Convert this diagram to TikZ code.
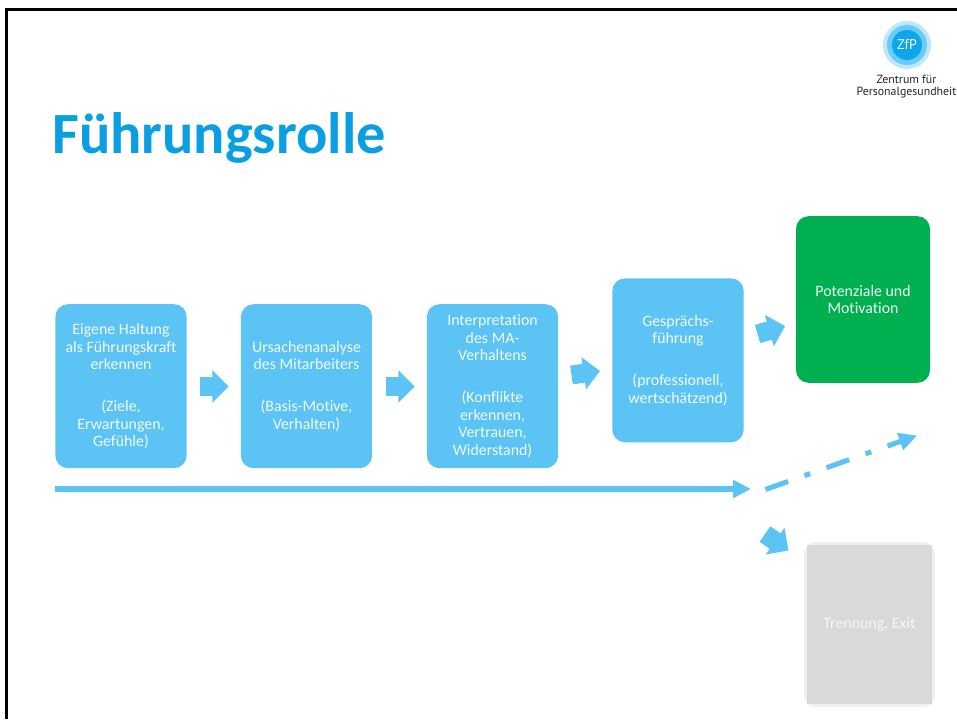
\documentclass[tikz,border=0pt]{standalone}
\usepackage{fontspec}
\setmainfont[Ligatures=NoCommon]{Carlito}
\newfontfamily\logofont{PT Sans}
\usetikzlibrary{shapes.arrows,arrows.meta}
\definecolor{zblue}{HTML}{5BC4F4}
\definecolor{ztitle}{HTML}{0A9FE3}
\definecolor{zgreen}{HTML}{00B050}
\definecolor{zgray}{HTML}{D9D9D9}
\definecolor{zrim}{HTML}{F0F0F0}
\definecolor{zring}{HTML}{BFE7FB}
\definecolor{zmid}{HTML}{6ACBF6}
\definecolor{zcore}{HTML}{0DA6EA}
\tikzset{
  x=.75pt,y=.75pt,
  boxtext/.style={align=center,font=\fontsize{11.9}{13.1}\selectfont,text=white!92!zblue},
  flowbox/.style={boxtext,fill=zblue,rounded corners=9.5pt,inner sep=0pt,minimum width=98.5pt,minimum height=123pt},
  goalbox/.style={flowbox,fill=zgreen,text=white!92!zgreen,minimum width=100.5pt,minimum height=125pt},
  blockarrow/.style={single arrow,fill=zblue,inner sep=6.75pt,minimum height=21.5pt,minimum width=24.5pt,
    single arrow head extend=5.1pt,anchor=tail,outer sep=0pt},
  longarrow/.style={draw=zblue,line width=4.4pt,-{Triangle[length=13.5pt,width=13pt]}},
}
\begin{document}
\begin{tikzpicture}
\useasboundingbox (0,-719) rectangle (957,0);
\fill[white] (0,-719) rectangle (957,0);
% frame
\coordinate (fa) at (6.4,-719); \coordinate (fb) at (6.4,-9); \coordinate (fc) at (957,-9);
\draw[black,line width=2.25pt] (fa) -- (fb) -- (fc);
% logo
\fill[zring] (907,-45) circle (24);
\fill[zmid] (907,-45) circle (20);
\fill[zcore] (907,-45) circle (15);
\node[text=white,font=\logofont\fontsize{10.5}{11}\selectfont,inner sep=0pt] (logo) at (907,-45) {ZfP};
\node[align=center,font=\logofont\fontsize{8.9}{9}\selectfont,text=black!85,inner sep=0pt] (logotext) at (906.5,-86.5) {Zentrum für\\Personalgesundheit};
% title
\node[anchor=base west,inner sep=0pt,text=ztitle,font=\bfseries\fontsize{43.8}{48}\selectfont] (title) at (52,-153) {Führungsrolle};
% boxes
\node[flowbox] (b1) at (121,-386.2) {Eigene Haltung\\als Führungskraft\\erkennen\\[18.4pt](Ziele,\\Erwartungen,\\Gefühle)};
\node[flowbox] (b2) at (306.5,-386.2) {Ursachenanalyse\\des Mitarbeiters\\[18.4pt](Basis-Motive,\\Verhalten)};
\node[flowbox] (b3) at (492.5,-386.2) {Interpretation\\des MA-\\Verhaltens\\[18.4pt](Konflikte\\erkennen,\\Vertrauen,\\Widerstand)};
\node[flowbox] (b4) at (678,-360.3) {Gesprächs-\\führung\\[18.4pt](professionell,\\wertschätzend)};
\node[goalbox] (b5) at (863,-299.5) {Potenziale und\\Motivation};
% exit box
\fill[zrim,rounded corners=9pt] (804,-707) rectangle (935,-542);
\node[fill=zgray,boxtext,text=white!80!zgray,inner sep=0pt,minimum width=93.75pt,minimum height=119.25pt] (b6) at (869.5,-624.5) {Trennung, Exit};
% block arrows
\node[blockarrow] (a1) at (200,-386.5) {};
\node[blockarrow] (a2) at (386,-386.5) {};
\node[blockarrow,rotate=8] (a3) at (571.5,-375) {};
\node[blockarrow,rotate=16] (a4) at (757.5,-334) {};
\node[blockarrow,rotate=-35] (a5) at (765,-534) {};
% long arrows
\coordinate (ls) at (55,-489); \coordinate (le) at (751,-489);
\draw[longarrow] (ls) -- (le);
\coordinate (ds) at (765.5,-489.5); \coordinate (de) at (917,-435.5);
\draw[longarrow,line width=3.8pt,dash pattern=on 18pt off 13pt on 4.6pt off 13pt] (ds) -- (de);
\end{tikzpicture}
\end{document}
